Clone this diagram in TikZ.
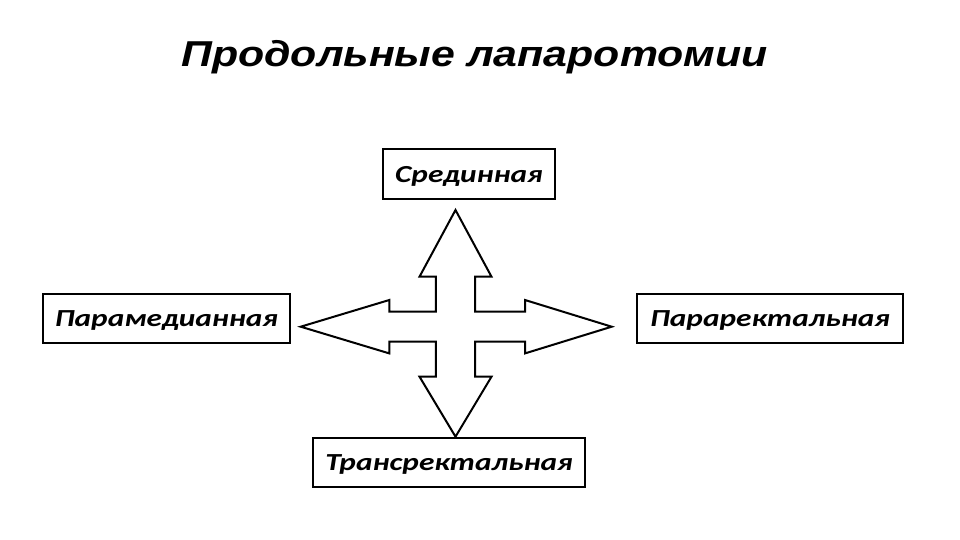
\documentclass[tikz,border=0pt]{standalone}
\usepackage{fontspec}
\setmainfont{Carlito}
\newfontfamily\titlefont{Liberation Sans}
\usepackage{tikz}
\usetikzlibrary{positioning}
\usetikzlibrary{calc}

\newcommand{\wide}[1]{\scalebox{1.28}[1]{#1}}

\begin{document}
\begin{tikzpicture}[x=1pt,y=-1pt]
	\useasboundingbox (0,0) rectangle (960,540);

	\node (title) [anchor=base] at (474.5,66.5)
	    {\scalebox{1.19}[1]{\titlefont\fontsize{36}{40}\selectfont\bfseries\itshape Продольные лапаротомии}};

	\begin{scope}[every node/.style={draw,line width=2pt,inner sep=0pt,minimum height=49pt,
	              text height=16.6pt,text depth=0pt,
	              font=\fontsize{24.5}{28}\selectfont\bfseries\itshape}]
	    \node (sred) [minimum width=172pt] at (469,174) {\wide{Срединная}};
	    \node (pmed) [minimum width=247pt] at (166.5,318) {\wide{Парамедианная}};
	    \node (prect) [minimum width=266pt] at (770,318) {\wide{Параректальная}};
	    \node (trans) [minimum width=272pt] at (449,462.5) {\wide{Трансректальная}};
	\end{scope}

	% cross arrow
	\coordinate (c) at (455.5,326.7);
	\draw [line width=2pt, line join=miter, fill=white]
	    ($(c)+(0,-116.7)$) -- ($(c)+(36,-50)$) -- ($(c)+(19.7,-50)$) -- ($(c)+(19.7,-15)$)
	    -- ($(c)+(69.5,-15)$) -- ($(c)+(69.5,-26.7)$) -- ($(c)+(156.2,0)$)
	    -- ($(c)+(69.5,26.7)$) -- ($(c)+(69.5,15)$) -- ($(c)+(19.7,15)$)
	    -- ($(c)+(19.7,50)$) -- ($(c)+(36,50)$) -- ($(c)+(0,110)$)
	    -- ($(c)+(-36,50)$) -- ($(c)+(-19.7,50)$) -- ($(c)+(-19.7,15)$)
	    -- ($(c)+(-66.2,15)$) -- ($(c)+(-66.2,26.7)$) -- ($(c)+(-154.8,0)$)
	    -- ($(c)+(-66.2,-26.7)$) -- ($(c)+(-66.2,-15)$) -- ($(c)+(-19.7,-15)$)
	    -- ($(c)+(-19.7,-50)$) -- ($(c)+(-36,-50)$) -- cycle;
\end{tikzpicture}
\end{document}
